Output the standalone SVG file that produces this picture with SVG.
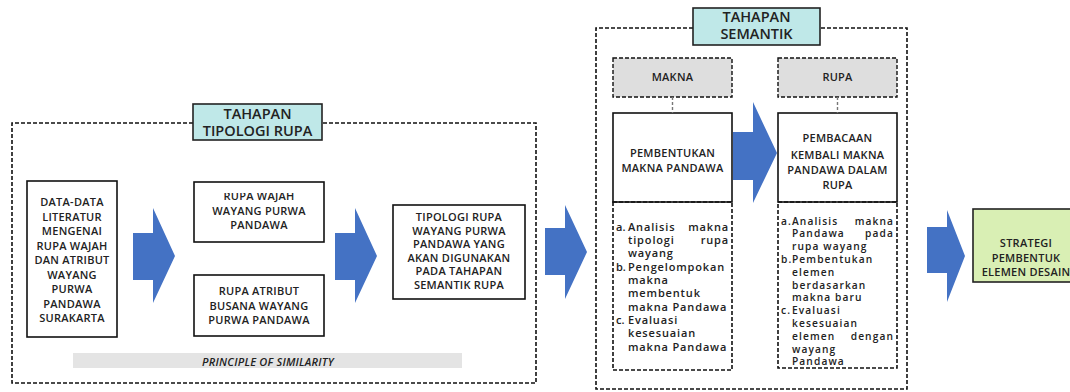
<svg xmlns="http://www.w3.org/2000/svg" width="1070" height="392" viewBox="0 0 1070 392">
<defs>
<style>
.dash{fill:none;stroke:#111;stroke-width:1.6;stroke-dasharray:4 2}
.box{fill:#fff;stroke:#111;stroke-width:1.6}
.title{fill:#bfe8e8;stroke:#222;stroke-width:1.6}
.grey{fill:#dedede;stroke:#111;stroke-width:1.4;stroke-dasharray:4 2}
.arrow{fill:#4472c4}
.t{font-family:"Open Sans","Liberation Sans",sans-serif;font-weight:600;font-size:11px;letter-spacing:0.25px;fill:#222;text-anchor:middle}
.tt{font-family:"Open Sans","Liberation Sans",sans-serif;font-weight:600;font-size:14.5px;fill:#222;text-anchor:middle}
.l{font-family:"Open Sans","Liberation Sans",sans-serif;font-weight:600;font-size:11px;fill:#222;letter-spacing:0.85px}
.n{font-family:"Open Sans","Liberation Sans",sans-serif;font-weight:600;font-size:11px;fill:#222}
.s{font-size:10.2px;letter-spacing:1.1px}
.r{text-anchor:end}
</style>
<clipPath id="cw"><rect x="194" y="193" width="130" height="60"/></clipPath>
</defs>

<g id="stage-tipologi">
<path class="dash" d="M193 123 H12 V383 H536 V123 H322"/>
<rect class="title" x="193" y="104" width="129" height="36"/>
<text class="tt" x="257.5" y="119">TAHAPAN</text>
<text class="tt" x="257.5" y="136">TIPOLOGI RUPA</text>
<rect x="73" y="353" width="389" height="15" fill="#e4e4e4"/>
<text class="t" x="268" y="366" font-style="italic">PRINCIPLE OF SIMILARITY</text>
</g>

<g id="node-data">
<rect class="box" x="27" y="181" width="90" height="156"/>
<text class="t" x="72" y="206">DATA-DATA</text>
<text class="t" x="72" y="220.5">LITERATUR</text>
<text class="t" x="72" y="235">MENGENAI</text>
<text class="t" x="72" y="249.5">RUPA WAJAH</text>
<text class="t" x="72" y="264">DAN ATRIBUT</text>
<text class="t" x="72" y="278.5">WAYANG</text>
<text class="t" x="72" y="293">PURWA</text>
<text class="t" x="72" y="307.5">PANDAWA</text>
<text class="t" x="72" y="322">SURAKARTA</text>
</g>

<g id="node-wajah">
<rect class="box" x="194" y="182" width="130" height="60"/>
<text class="t" x="259" y="200" clip-path="url(#cw)">RUPA WAJAH</text>
<text class="t" x="259" y="215">WAYANG PURWA</text>
<text class="t" x="259" y="229">PANDAWA</text>
</g>

<g id="node-atribut">
<rect class="box" x="194" y="275" width="130" height="61"/>
<text class="t" x="259" y="295">RUPA ATRIBUT</text>
<text class="t" x="259" y="310">BUSANA WAYANG</text>
<text class="t" x="259" y="324">PURWA PANDAWA</text>
</g>

<g id="node-tipologi">
<rect class="box" x="393" y="205" width="132" height="94"/>
<text class="t" x="459" y="221">TIPOLOGI RUPA</text>
<text class="t" x="459" y="234.6">WAYANG PURWA</text>
<text class="t" x="459" y="248.2">PANDAWA YANG</text>
<text class="t" x="459" y="261.8">AKAN DIGUNAKAN</text>
<text class="t" x="459" y="275.4">PADA TAHAPAN</text>
<text class="t" x="459" y="289">SEMANTIK RUPA</text>
</g>

<g id="stage-semantik">
<path class="dash" d="M693 28 H596 V389 H907 V28 H820"/>
<rect class="title" x="693" y="8" width="127" height="37"/>
<text class="tt" x="756.5" y="22">TAHAPAN</text>
<text class="tt" x="756.5" y="39">SEMANTIK</text>
</g>

<g id="node-makna-label">
<rect class="grey" x="613" y="58" width="119" height="39"/>
<text class="t" x="672.5" y="81">MAKNA</text>
</g>

<g id="node-rupa-label">
<rect class="grey" x="778" y="58" width="119" height="39"/>
<text class="t" x="837.5" y="81">RUPA</text>
</g>

<g id="node-pembentukan">
<rect class="box" x="613" y="113" width="119" height="89"/>
<text class="t" x="672.5" y="157">PEMBENTUKAN</text>
<text class="t" x="672.5" y="172">MAKNA PANDAWA</text>
<rect class="dash" x="613" y="202" width="119" height="168" stroke-width="1.3"/>
<text class="n" x="616" y="231">a.</text><text class="l" x="628" y="231">Analisis</text><text class="l r" x="729" y="231">makna</text>
<text class="l" x="628" y="244">tipologi</text><text class="l r" x="729" y="244">rupa</text>
<text class="l" x="628" y="257">wayang</text>
<text class="n" x="616" y="270.5">b.</text><text class="l" x="628" y="270.5">Pengelompokan</text>
<text class="l" x="628" y="284">makna</text>
<text class="l" x="628" y="297">membentuk</text>
<text class="l" x="628" y="310.5">makna Pandawa</text>
<text class="n" x="616" y="324">c.</text><text class="l" x="628" y="324">Evaluasi</text>
<text class="l" x="628" y="337">kesesuaian</text>
<text class="l" x="628" y="350.5">makna Pandawa</text>
</g>

<g id="node-pembacaan">
<rect class="box" x="778" y="113" width="119" height="89"/>
<text class="t" x="837.5" y="142">PEMBACAAN</text>
<text class="t" x="837.5" y="158.5">KEMBALI MAKNA</text>
<text class="t" x="837.5" y="173.5">PANDAWA DALAM</text>
<text class="t" x="837.5" y="188.5">RUPA</text>
<rect class="dash" x="778" y="202" width="119" height="166" stroke-width="1.3"/>
<text class="n s" x="781" y="224.5">a.</text><text class="l s" x="792" y="224.5">Analisis</text><text class="l s r" x="894" y="224.5">makna</text>
<text class="l s" x="792" y="237.3">Pandawa</text><text class="l s r" x="894" y="237.3">pada</text>
<text class="l s" x="792" y="250.1">rupa wayang</text>
<text class="n s" x="781" y="262.9">b.</text><text class="l s" x="792" y="262.9">Pembentukan</text>
<text class="l s" x="792" y="275.7">elemen</text>
<text class="l s" x="792" y="288.5">berdasarkan</text>
<text class="l s" x="792" y="301.3">makna baru</text>
<text class="n s" x="781" y="314.1">c.</text><text class="l s" x="792" y="314.1">Evaluasi</text>
<text class="l s" x="792" y="326.9">kesesuaian</text>
<text class="l s" x="792" y="339.7">elemen</text><text class="l s r" x="894" y="339.7">dengan</text>
<text class="l s" x="792" y="352.5">wayang</text>
<text class="l s" x="792" y="365.3">Pandawa</text>
</g>

<g id="node-strategi">
<rect x="973" y="209" width="110" height="73" fill="#d9efb4" stroke="#222" stroke-width="1.6"/>
<text class="t" x="1026" y="247">STRATEGI</text>
<text class="t" x="1026" y="262">PEMBENTUK</text>
<text class="t" x="1026" y="276">ELEMEN DESAIN</text>
</g>

<g id="connectors">
<line x1="672.5" y1="97" x2="672.5" y2="113" stroke="#777" stroke-width="1.4" stroke-dasharray="3 2"/>
<line x1="837.5" y1="97" x2="837.5" y2="113" stroke="#777" stroke-width="1.4" stroke-dasharray="3 2"/>
<polygon class="arrow" points="133,233 153,233 153,208 175,256 153,303 153,280 133,280"/>
<polygon class="arrow" points="335,233 355,233 355,208 377,256 355,303 355,280 335,280"/>
<polygon class="arrow" points="545,228 565,228 565,205 587,252 565,299 565,275 545,275"/>
<polygon class="arrow" points="733,132 753,132 753,102 777,153 753,203 753,180 733,180"/>
<polygon class="arrow" points="927,227 947,227 947,210 965,256 947,302 947,273 927,273"/>
</g>
</svg>
